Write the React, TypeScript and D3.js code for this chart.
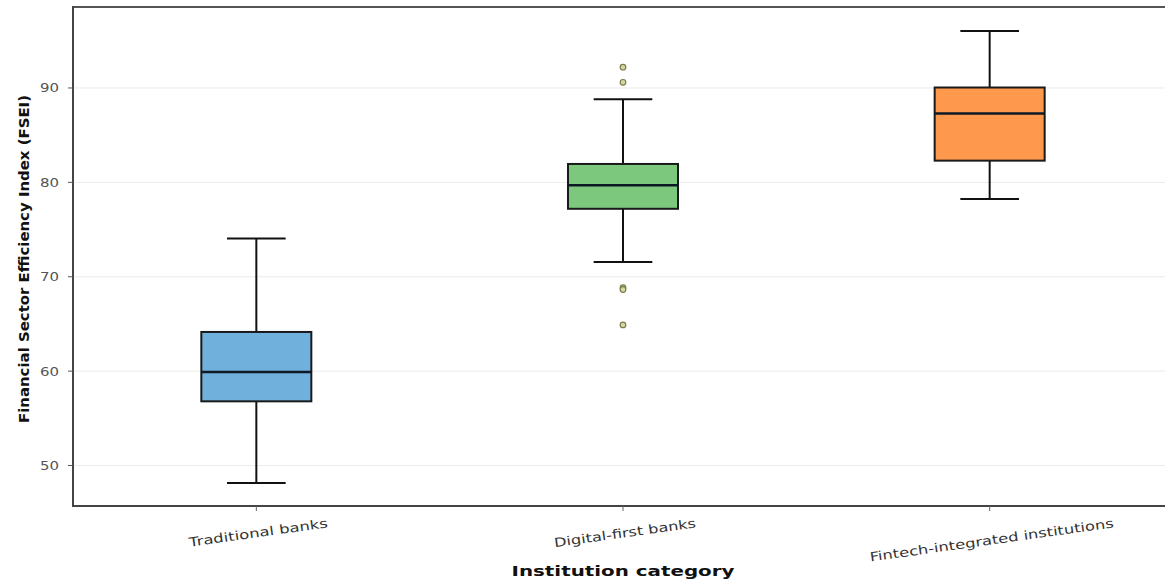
import React from "react";
import * as d3 from "d3";

const categories = ["Traditional banks", "Digital-first banks", "Fintech-integrated institutions"];
const whiskerLow = [48.15, 71.55, 78.25];
const q1 = [56.8, 77.2, 82.3];
const median = [59.9, 79.7, 87.3];
const q3 = [64.15, 81.95, 90.05];
const whiskerHigh = [74.05, 88.8, 96.05];
const outliers: number[][] = [[], [92.2, 90.6, 68.85, 68.65, 64.9], []];
const fills = ["#6fb1dc", "#7cc87c", "#fd984c"];
const yTicks = [50, 60, 70, 80, 90];
const tickLabelLengths = [140, 143, 246];

const W = 1165;
const H = 579;

export default function App() {
  const x = d3.scaleLinear().domain([0.5, 3.5]).range([73, 1173]);
  const y = d3.scaleLinear().domain([45.71, 98.58]).range([506, 7]);
  const boxW = x(0.3) - x(0);
  const capW = x(0.16) - x(0);
  const ang = 8;
  const rad = (ang * Math.PI) / 180;

  return (
    <svg width={W} height={H} style={{ position: "absolute", left: 0, top: 0, background: "#fff" }}>
      {yTicks.map((t) => (
        <line key={"g" + t} x1={x(0.5)} x2={W} y1={y(t)} y2={y(t)} stroke="#ebebeb" strokeWidth={1} />
      ))}
      {categories.map((c, i) => {
        const cx = x(i + 1);
        return (
          <g key={c}>
            <line x1={cx} x2={cx} y1={y(q3[i])} y2={y(whiskerHigh[i])} stroke="#111" strokeWidth={2} />
            <line x1={cx} x2={cx} y1={y(q1[i])} y2={y(whiskerLow[i])} stroke="#111" strokeWidth={2} />
            <line x1={cx - capW / 2} x2={cx + capW / 2} y1={y(whiskerHigh[i])} y2={y(whiskerHigh[i])} stroke="#111" strokeWidth={2} />
            <line x1={cx - capW / 2} x2={cx + capW / 2} y1={y(whiskerLow[i])} y2={y(whiskerLow[i])} stroke="#111" strokeWidth={2} />
            <rect x={cx - boxW / 2} width={boxW} y={y(q3[i])} height={y(q1[i]) - y(q3[i])} fill={fills[i]} stroke="#1a1a1a" strokeWidth={2} />
            <line x1={cx - boxW / 2} x2={cx + boxW / 2} y1={y(median[i])} y2={y(median[i])} stroke="#0d1a26" strokeWidth={2.4} />
            {outliers[i].map((v, k) => (
              <circle key={k} cx={cx} cy={y(v)} r={2.8} fill="#d6d6a6" stroke="#7d7d4a" strokeWidth={1.2} />
            ))}
          </g>
        );
      })}
      <line x1={x(0.5)} x2={W} y1={7} y2={7} stroke="#555" strokeWidth={2} />
      <line x1={x(0.5)} x2={x(0.5)} y1={6} y2={507} stroke="#444" strokeWidth={2} />
      <line x1={x(0.5) - 1} x2={W} y1={506} y2={506} stroke="#444" strokeWidth={2} />
      {yTicks.map((t) => (
        <g key={"t" + t}>
          <line x1={x(0.5) - 5} x2={x(0.5)} y1={y(t)} y2={y(t)} stroke="#555" strokeWidth={1} />
          <text x={59} y={y(t)} dy="0.35em" textAnchor="end" fontFamily="DejaVu Sans" fontSize={12.5} fill="#555" textLength={19} lengthAdjust="spacingAndGlyphs">
            {t}
          </text>
        </g>
      ))}
      {categories.map((c, i) => {
        const cx = x(i + 1);
        const L = tickLabelLengths[i];
        const yc = 517 + (L * Math.sin(rad) + 12 * Math.cos(rad)) / 2;
        return (
          <g key={"xt" + c}>
            <line x1={cx} x2={cx} y1={506} y2={511} stroke="#666" strokeWidth={1} />
            <text
              transform={`translate(${cx + 2},${yc}) rotate(${-ang})`}
              textAnchor="middle"
              dy="0.35em"
              fontFamily="DejaVu Sans"
              fontSize={12.5}
              fill="#333"
              textLength={L}
              lengthAdjust="spacingAndGlyphs"
            >
              {c}
            </text>
          </g>
        );
      })}
      <text x={623} y={576} textAnchor="middle" fontFamily="DejaVu Sans" fontWeight="bold" fontSize={14} fill="#111" textLength={223} lengthAdjust="spacingAndGlyphs">
        Institution category
      </text>
      <text
        transform={`translate(29,259) rotate(-90)`}
        textAnchor="middle"
        fontFamily="DejaVu Sans"
        fontWeight="bold"
        fontSize={14.5}
        fill="#111"
        textLength={328}
        lengthAdjust="spacingAndGlyphs"
      >
        Financial Sector Efficiency Index (FSEI)
      </text>
    </svg>
  );
}
